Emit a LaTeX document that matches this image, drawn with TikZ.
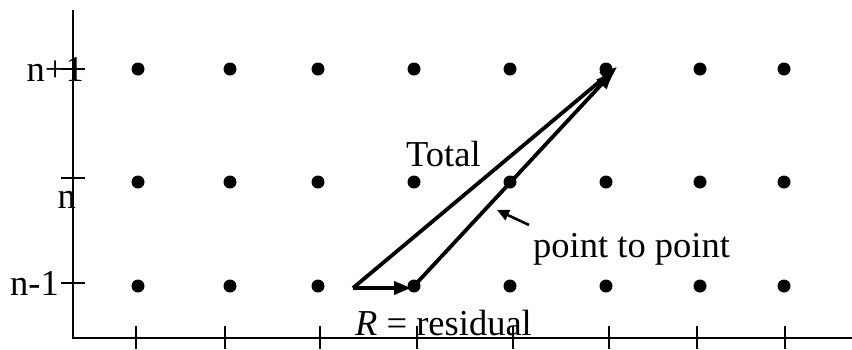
\documentclass[tikz,border=0pt]{standalone}
\usepackage{fontspec}
\setmainfont{Liberation Serif}
\usetikzlibrary{arrows.meta,positioning}
\tikzset{
  gridpt/.style={circle, fill=black, inner sep=0pt, minimum size=13pt},
  lbl/.style={inner sep=0pt, font=\fontsize{36.5}{42}\selectfont},
  axis/.style={line width=2.2pt, draw=black},
  tick/.style={line width=2.2pt, draw=black},
  arr/.style={-{Triangle[length=17pt,width=13pt]}, line width=3.8pt, draw=black},
  ptr/.style={-{Triangle[length=12pt,width=11pt]}, line width=2.6pt, draw=black}
}

\begin{document}
\begin{tikzpicture}[x=1pt,y=-1pt]
\useasboundingbox (0,0) rectangle (852,349);
% axes
\coordinate (origin) at (73,338);
\draw[axis] (73,10) -- (origin) -- (852,338);
\foreach \tx in {136,225,320,417,513,609,697,785}
  \draw[tick] (\tx,326) -- (\tx,349);
\foreach \ty in {69,178,283}
  \draw[tick] (61,\ty) -- (85,\ty);
% level labels
\node[lbl,anchor=base east] (lnp) at (84,81) {n+1};
\node[lbl,anchor=base east] (ln) at (76,208) {n};
\node[lbl,anchor=base east] (lnm) at (59,295) {n-1};
% grid points
\foreach \px [count=\i] in {138,230,318,414,510,606,700,784}{
  \node[gridpt] (a\i) at (\px,286) {};
  \node[gridpt] (b\i) at (\px,182) {};
  \node[gridpt] (c\i) at (\px,69) {};
}
% vectors
\coordinate (start) at (353,288);
\coordinate (resend) at (411,288);
\coordinate (totend) at (617,67);
\coordinate (p2pend) at (613,72);
\draw[arr] (start) -- (totend);
\draw[arr] (start) -- (resend);
\draw[arr] (a4.center) -- (p2pend);
% labels
\node[lbl,anchor=base west] (total) at (406,166) {Total};
\node[lbl,anchor=base west] (p2p) at (533,257) {point to point};
\node[lbl,anchor=base west] (resid) at (355,335) {\textit{R} = residual};
\coordinate (ptrtail) at (529,225);
\coordinate (ptrtip) at (497,210);
\draw[ptr] (ptrtail) -- (ptrtip);
\end{tikzpicture}
\end{document}
